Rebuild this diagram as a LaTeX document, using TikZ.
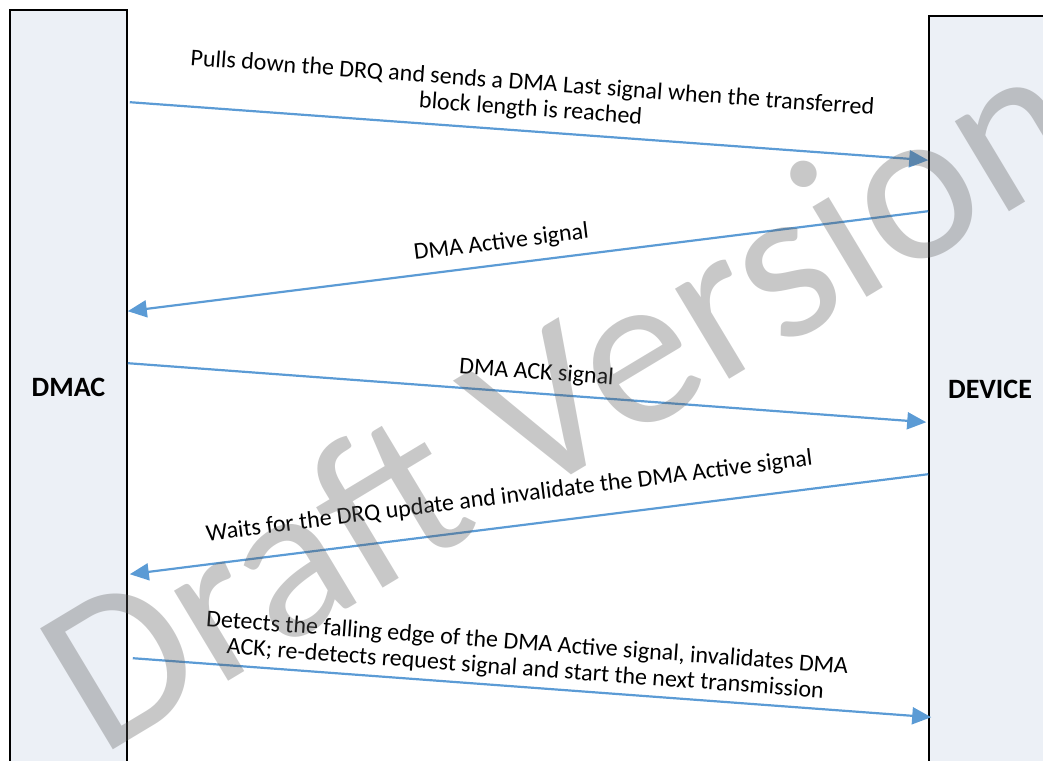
\documentclass[tikz,border=0pt]{standalone}
\usepackage{fontspec}
\setmainfont{Carlito}
\usetikzlibrary{calc,arrows.meta}
\definecolor{boxfill}{RGB}{236,240,246}
\definecolor{msgblue}{RGB}{91,155,213}

\begin{document}
\begin{tikzpicture}[x=1pt,y=-1pt,
    party/.style={draw=black,line width=1.6pt,fill=boxfill,minimum width=117pt,inner sep=0pt,
      font=\fontsize{28}{32}\selectfont\bfseries},
    msg/.style={msgblue,line width=2.2pt,-{Triangle[length=19pt,width=17pt]}},
    back/.style={msgblue,line width=2.2pt,{Triangle[length=19pt,width=17pt]}-},
    lbl/.style={black,sloped,inner sep=0pt,align=center,font=\fontsize{24}{26}\selectfont}]
  \useasboundingbox (0,0) rectangle (1043,760);
  \clip (0,0) rectangle (1043,760);

  % the two parties
  \node[party,minimum height=754pt] (dmac) at (68.5,387) {DMAC};
  \node[party,minimum width=122pt,minimum height=746pt] (device) at (990,389) {DEVICE};

  % messages
  \draw[msg] ($(dmac.north east)+(2,93)$) -- node[lbl,pos=.5,above=10pt]
    {Pulls down the DRQ and sends a DMA Last signal when the transferred\\block length is reached}
    ($(device.north west)+(0,145)$);
  \draw[back] ($(dmac.north east)+(0,302)$) -- node[lbl,pos=.47,above=10pt] {DMA Active signal}
    ($(device.north west)+(0,196)$);
  \draw[msg] ($(dmac.north east)+(0,354)$) -- node[lbl,pos=.51,above=9pt] {DMA ACK signal}
    ($(device.north west)+(-2,407)$);
  \draw[back] ($(dmac.north east)+(2,565)$) -- node[lbl,pos=.48,above=18pt]
    {Waits for the DRQ update and invalidate the DMA Active signal}
    ($(device.north west)+(0,459)$);
  \draw[msg] ($(dmac.north east)+(5,649)$) -- node[lbl,pos=.49,above=6pt]
    {Detects the falling edge of the DMA Active signal, invalidates DMA\\ACK; re-detects request signal and start the next transmission}
    ($(device.north west)+(3,702)$);

  % watermark
  \node[rotate=31,anchor=base west,inner sep=0pt,text=black!65,text opacity=.33,
    font=\fontsize{220}{220}\selectfont] (wmark) at (100,758) {Draft Version};
\end{tikzpicture}
\end{document}
